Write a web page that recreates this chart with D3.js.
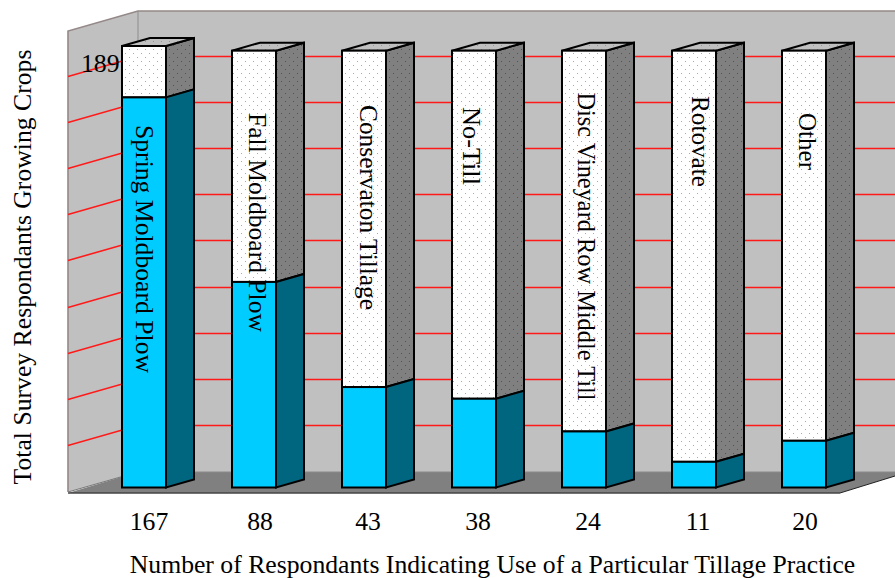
<!DOCTYPE html>
<html>
<head>
<meta charset="utf-8">
<script src="https://cdn.jsdelivr.net/npm/d3@7/dist/d3.min.js"></script>
<style>
html,body{margin:0;padding:0;background:#fff;}
svg{display:block;}
text{font-family:"Liberation Serif","Times New Roman",serif;fill:#000;font-size:25.7px;}
</style>
</head>
<body>
<svg id="chart" width="895" height="578"></svg>
<script>
// Survey data
const practices = ["Spring Moldboard Plow","Fall Moldboard Plow","Conservaton Tillage","No-Till","Disc Vineyard Row Middle Till","Rotovate","Other"];
const respondents = [167,88,43,38,24,11,20];
const remainder = [22,99,144,149,163,176,167];
const gridTicks = [21,42,63,84,105,126,147,168,189];
const axisLabel = [189];

// Layout of the 3-D box
const W = 895;
const wall = {x0:68, x1:138, top:11, topFront:31, floor:472, floorFront:492};
const depth = {dx:28, dy:-8};
const barWidth = 44;
// where each rotated bar caption begins, its baseline offset inside the bar, and its run length
const captionStart = [125,113,105,107,92.5,96,113];
const captionInset = [14,17,18,11,16,20,17];
const captionLength = [248,219,205,78,308,91,57];
const countCentre = [149,260,368,478,588,698,805];

const svg = d3.select("#chart");

const x = d3.scalePoint().domain(d3.range(practices.length)).range([122,782]);
// bars stand on the front of the floor, gridlines on the back wall
const yBar = d3.scaleLinear().domain([0,189]).range([487.5,46]);
const yGrid = d3.scaleLinear().domain([0,189]).range([472,57]);

// Dotted fills
const defs = svg.append("defs");
function dots(id,bg,dot){
  const p = defs.append("pattern").attr("id",id).attr("patternUnits","userSpaceOnUse")
    .attr("width",8).attr("height",8);
  p.append("rect").attr("width",8).attr("height",8).attr("fill",bg);
  [[1,1],[5,5]].forEach(([a,b])=>p.append("rect").attr("x",a).attr("y",b).attr("width",1).attr("height",1)
    .attr("fill",dot));
}
dots("dotFront","#ffffff","#8fa8ff");
dots("dotSide","#808080","#50506c");
dots("dotTop","#c0c0c0","#8696c8");

const pts = a => a.map(p=>p.join(",")).join(" ");

// Walls and floor
svg.append("polygon").attr("points",pts([[wall.x1,wall.top],[W,wall.top],[W,wall.floor],[wall.x1,wall.floor]])).attr("fill","#c0c0c0");
svg.append("polygon").attr("points",pts([[wall.x0,wall.topFront],[wall.x1,wall.top],[wall.x1,wall.floor],[wall.x0,wall.floorFront]])).attr("fill","#c0c0c0");
svg.append("polygon").attr("points",pts([[wall.x0,wall.floorFront+1],[wall.x1,wall.floor],[W,wall.floor],[W,476],[840,493]])).attr("fill","#808080");

// Wall outlines
const edge = "#948888";
svg.append("polyline").attr("points",pts([[wall.x0,wall.floorFront],[wall.x0,wall.topFront],[wall.x1,wall.top],[W,wall.top]]))
  .attr("fill","none").attr("stroke",edge).attr("stroke-width",1.6);
svg.append("line").attr("x1",wall.x1).attr("x2",wall.x1).attr("y1",wall.top).attr("y2",wall.floor).attr("stroke","#8c8c8c").attr("stroke-width",1);
svg.append("line").attr("x1",wall.x0).attr("x2",840).attr("y1",493).attr("y2",493).attr("stroke","#444").attr("stroke-width",1.4);
svg.append("line").attr("x1",840).attr("x2",W).attr("y1",493).attr("y2",476).attr("stroke","#222").attr("stroke-width",1);
svg.append("line").attr("x1",wall.x0).attr("x2",wall.x1).attr("y1",wall.floorFront).attr("y2",wall.floor).attr("stroke","#777").attr("stroke-width",1);
svg.append("line").attr("x1",wall.x1).attr("x2",W).attr("y1",wall.floor).attr("y2",wall.floor).attr("stroke","#8a8a8a").attr("stroke-width",1);

// Red gridlines across the back wall and down the side wall, snapped to whole pixel rows
const gridRow = d => Math.round(yGrid(d)) - 0.5;
svg.append("g").selectAll("polyline").data(gridTicks).join("polyline")
  .attr("points",d=>pts([[wall.x0,gridRow(d)+20],[wall.x1,gridRow(d)],[W,gridRow(d)]]))
  .attr("fill","none").attr("stroke","#ff1a1a").attr("stroke-width",1.6);

// Stacked boxes
const bars = svg.append("g").selectAll("g").data(practices).join("g");
function box(g,x0,yTop,yBase,front,side,top){
  const x1 = x0+barWidth, dx=depth.dx, dy=depth.dy;
  g.append("polygon").attr("points",pts([[x1,yTop],[x1+dx,yTop+dy],[x1+dx,yBase+dy],[x1,yBase]])).attr("fill",side);
  if(top) g.append("polygon").attr("points",pts([[x0,yTop],[x0+dx,yTop+dy],[x1+dx,yTop+dy],[x1,yTop]])).attr("fill",top);
  g.append("rect").attr("x",x0).attr("y",yTop).attr("width",barWidth).attr("height",yBase-yTop).attr("fill",front);
  g.selectAll("polygon,rect").attr("stroke","#000").attr("stroke-width",2).attr("stroke-linejoin","miter");
}
bars.each(function(d,i){
  const g = d3.select(this), x0 = x(i);
  const yMid = yBar(respondents[i]), yTop = yBar(respondents[i]+remainder[i]);
  box(g.append("g"),x0,yTop,yMid,"url(#dotFront)","url(#dotSide)","url(#dotTop)");
  box(g.append("g"),x0,yMid,yBar(0),"#00ccff","#006680",null);
  g.append("text").attr("transform",`translate(${x0+captionInset[i]},${captionStart[i]}) rotate(90)`)
    .attr("textLength",captionLength[i]).attr("lengthAdjust","spacingAndGlyphs").text(d);
});

// Axis number on the side wall
svg.selectAll("text.axisNum").data(axisLabel).join("text").attr("class","axisNum")
  .attr("x",81).attr("y",d=>yGrid(d)+15).text(d=>d);

// Counts under each bar
svg.append("g").selectAll("text").data(respondents).join("text")
  .attr("x",(d,i)=>countCentre[i]).attr("y",530).attr("text-anchor","middle").text(d=>d);

// Axis titles
svg.append("text").attr("x",492.5).attr("y",572.5).attr("text-anchor","middle")
  .text("Number of Respondants Indicating Use of a Particular Tillage Practice");
svg.append("text").attr("transform","translate(31,267) rotate(-90)").attr("text-anchor","middle")
  .text("Total Survey Respondants Growing Crops");
</script>
</body>
</html>
